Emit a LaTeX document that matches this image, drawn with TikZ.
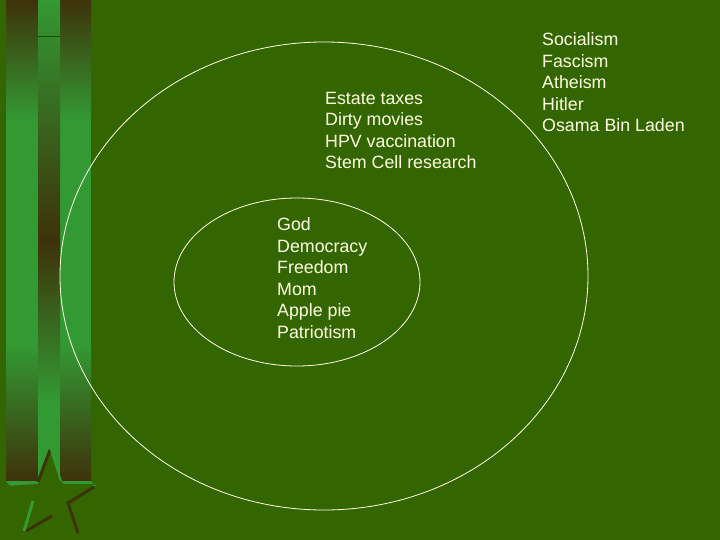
\documentclass[tikz,border=0pt]{standalone}
\usepackage{fontspec}
\setmainfont{Liberation Sans}
\definecolor{slidegreen}{RGB}{51,102,0}
\definecolor{barbrown}{RGB}{62,50,10}
\definecolor{barlight}{RGB}{51,153,51}
\definecolor{chalk}{RGB}{255,255,230}
\tikzset{
    itemlist/.style = {anchor=base west, align=left, text=chalk, inner sep=0pt,
        font=\fontsize{17.8}{21.5}\selectfont},
    ring/.style = {draw=chalk, line width=0.8pt}
}

\begin{document}
\begin{tikzpicture}[x = 1pt, y = -1pt]
    \fill[slidegreen] (0,0) rectangle (720,540);
    \useasboundingbox (0,0) rectangle (720,540);
    % bars on the left
    \shade[top color=barbrown, bottom color=barlight] (6,0) rectangle (38,120);
    \fill[barlight] (6,120) rectangle (38,345);
    \shade[top color=barlight, bottom color=barbrown] (6,345) rectangle (38,481);
    \shade[top color=barbrown, bottom color=barlight] (60,0) rectangle (91,120);
    \fill[barlight] (60,120) rectangle (91,345);
    \shade[top color=barlight, bottom color=barbrown] (60,345) rectangle (91,481);
    \shade[top color=barlight, bottom color=barbrown] (38,0) rectangle (60,241);
    \shade[top color=barbrown, bottom color=barlight] (38,241) rectangle (60,400);
    \fill[barlight] (38,400) rectangle (60,481);
    \draw[slidegreen!70!black, line width=0.8pt] (38,36) -- (60,36);
    \fill[barlight] (6,481) -- (91,481) -- (96,486) -- (10,486) -- cycle;
    % star
    \fill[slidegreen] (50,449) -- (63,484) -- (95,484) -- (67,502) -- (79,535)
        -- (53,515) -- (23,533) -- (32,500) -- (6,486) -- (38,484) -- cycle;
    \draw[barbrown, line width=3pt] (50,450) -- (38,482);
    \draw[barbrown, line width=3pt] (94,487) -- (68,503) -- (78,533);
    \draw[barbrown, line width=3pt] (26,531) -- (52,516);
    \draw[barlight, line width=3pt] (33,501) -- (24,531);
    \draw[barlight, line width=2pt] (51,450) -- (61,481);
    % circles
    \draw[ring] (324,276) ellipse [x radius=264, y radius=234];
    \draw[ring] (297,282) ellipse [x radius=123, y radius=84];
    % lists (anchored at the last line)
    \node[itemlist] (good) at (277,338) {God\\Democracy\\Freedom\\Mom\\Apple pie\\Patriotism};
    \node[itemlist] (doubt) at (325,169) {Estate taxes\\Dirty movies\\HPV vaccination\\Stem Cell research};
    \node[itemlist] (evil) at (542,132) {Socialism\\Fascism\\Atheism\\Hitler\\Osama Bin Laden};
\end{tikzpicture}
\end{document}
